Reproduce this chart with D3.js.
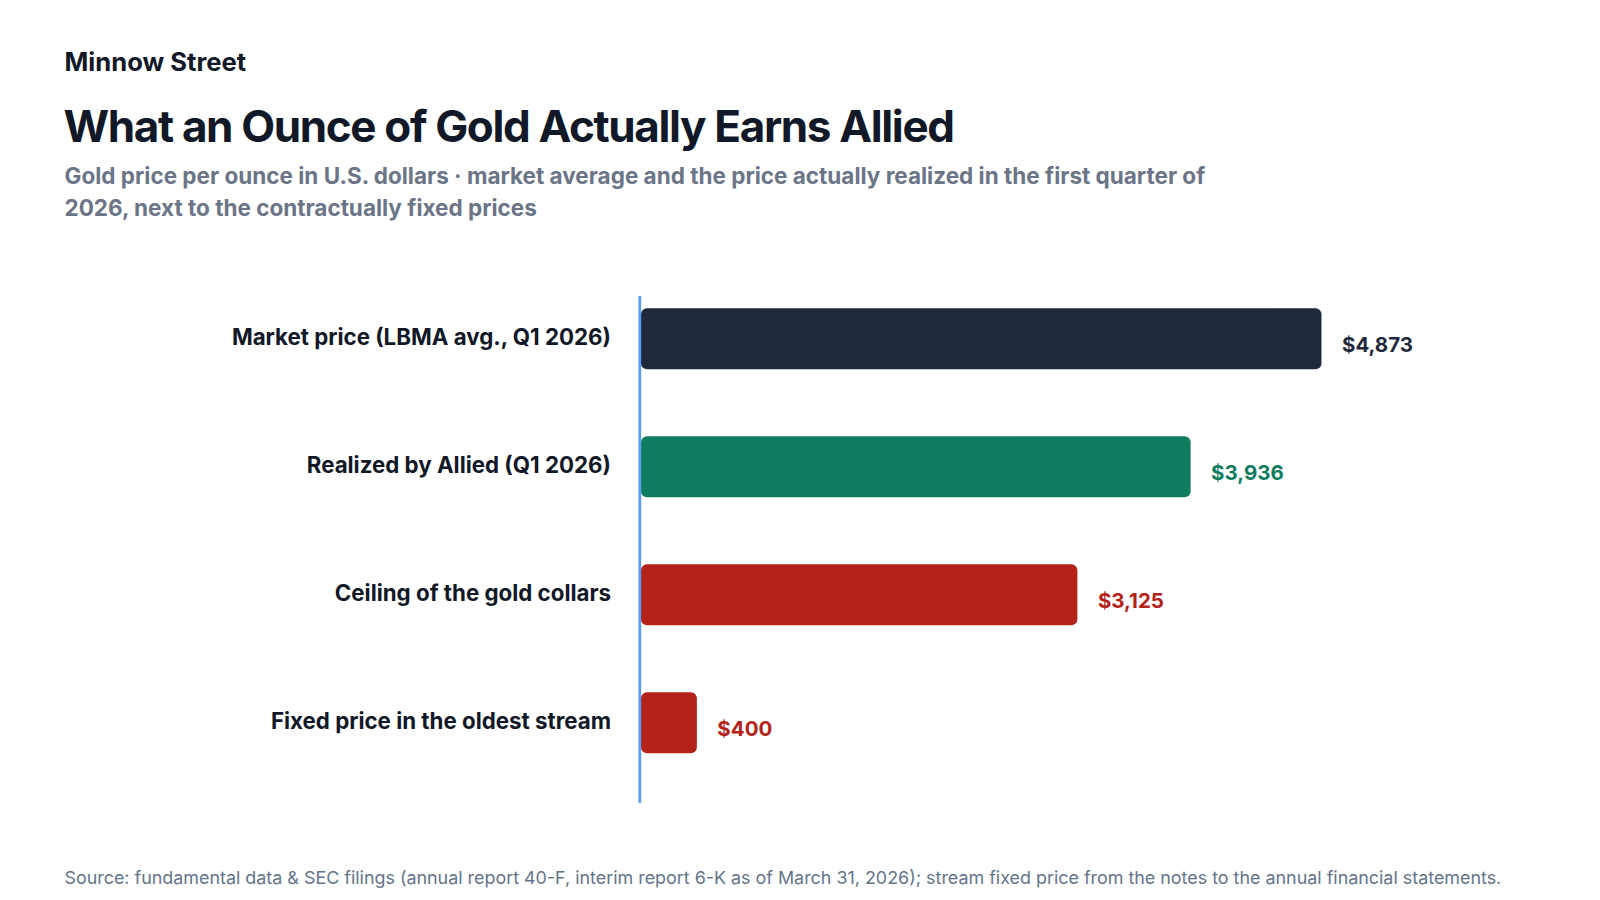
<!DOCTYPE html>
<html>
<head>
<meta charset="utf-8">
<script src="https://cdn.jsdelivr.net/npm/d3@7"></script>
<style>
  html, body { margin: 0; padding: 0; background: #ffffff; }
  svg { display: block; font-family: Inter, "Liberation Sans", Arial, sans-serif; }
</style>
</head>
<body>
<svg id="chart" width="1600" height="900"></svg>
<script>
const categories = [
  "Market price (LBMA avg., Q1 2026)",
  "Realized by Allied (Q1 2026)",
  "Ceiling of the gold collars",
  "Fixed price in the oldest stream"
];
const values = [4873, 3936, 3125, 400];
const barColors = ["#1e293b", "#0f7b5f", "#b3231a", "#b3231a"];
const labelColors = ["#1e293b", "#0f7b5f", "#b3231a", "#b3231a"];

const svg = d3.select("#chart");
const LEFT = 64.5;

// Header
svg.append("text").attr("x", LEFT).attr("y", 70.5)
  .attr("font-size", 25.6).attr("font-weight", 700).attr("fill", "#111827")
  .text("Minnow Street");
svg.append("text").attr("x", LEFT - 1).attr("y", 142)
  .attr("font-size", 44).attr("font-weight", 700).attr("fill", "#111827")
  .attr("letter-spacing", -1.35)
  .text("What an Ounce of Gold Actually Earns Allied");
const sub = svg.append("text").attr("font-size", 22.5).attr("font-weight", 700).attr("fill", "#6b7587");
sub.append("tspan").attr("x", LEFT).attr("y", 184)
  .text("Gold price per ounce in U.S. dollars \u00b7 market average and the price actually realized in the first quarter of");
sub.append("tspan").attr("x", LEFT).attr("y", 215.5)
  .text("2026, next to the contractually fixed prices");

// Scales
const x = d3.scaleLinear().domain([0, 5000]).range([641, 1339.2]);
const y = d3.scaleBand().domain(categories).range([296, 803])
  .paddingInner(0.5234).paddingOuter(0.2422).align(0.198);

// Bars
const g = svg.append("g");
g.selectAll("rect.bar").data(values).join("rect")
  .attr("class", "bar")
  .attr("x", x(0))
  .attr("y", (d, i) => y(categories[i]))
  .attr("width", d => x(d) - x(0))
  .attr("height", y.bandwidth())
  .attr("rx", 6).attr("ry", 6)
  .attr("fill", (d, i) => barColors[i]);

// Value labels
const fmt = d3.format(",");
g.selectAll("text.val").data(values).join("text")
  .attr("class", "val")
  .attr("x", d => x(d) + 20.5)
  .attr("y", (d, i) => y(categories[i]) + y.bandwidth() / 2 + 13)
  .attr("font-size", 20.5).attr("font-weight", 700)
  .attr("fill", (d, i) => labelColors[i])
  .text(d => "$" + fmt(d));

// Category labels (axis)
const yAxis = d3.axisLeft(y).tickSize(0).tickPadding(0);
const ax = svg.append("g").attr("transform", "translate(611,0)").call(yAxis);
ax.select(".domain").remove();
ax.selectAll("text")
  .attr("font-family", "Inter, Liberation Sans, Arial, sans-serif")
  .attr("font-size", 22.3).attr("font-weight", 700).attr("fill", "#111827")
  .attr("dy", null)
  .attr("y", 6);

// Baseline axis line
svg.append("line")
  .attr("x1", 639.8).attr("x2", 639.8)
  .attr("y1", y.range()[0]).attr("y2", y.range()[1])
  .attr("stroke", "#5b9cf6").attr("stroke-width", 2.8);

// Footer
svg.append("text").attr("x", LEFT).attr("y", 883.5)
  .attr("font-size", 17.9).attr("fill", "#64748b")
  .text("Source: fundamental data & SEC filings (annual report 40-F, interim report 6-K as of March 31, 2026); stream fixed price from the notes to the annual financial statements.");
</script>
</body>
</html>
